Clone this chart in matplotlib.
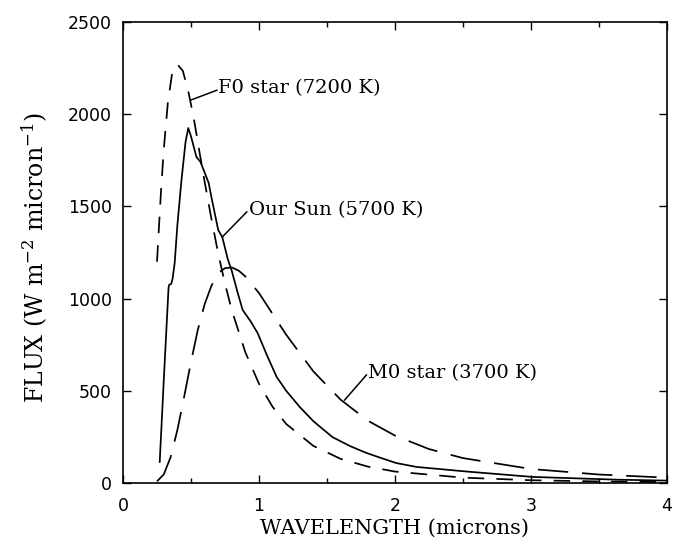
import matplotlib
matplotlib.use("Agg")
import matplotlib.pyplot as plt
from matplotlib.ticker import MultipleLocator

# ---- data ----
f0_wl = [0.25, 0.28, 0.30, 0.33, 0.36, 0.40, 0.44, 0.48, 0.52, 0.56, 0.60, 0.65, 0.70,
         0.75, 0.80, 0.90, 1.00, 1.10, 1.20, 1.40, 1.60, 1.80, 2.00, 2.50, 3.00, 3.50, 4.00]
f0_flux = [1200, 1590, 1810, 2065, 2215, 2270, 2235, 2125, 1980, 1805, 1635, 1433, 1244,
           1081, 937, 708, 538, 413, 320, 201, 131, 89, 62, 29, 15, 8.5, 5]

sun_wl = [0.27, 0.30, 0.335, 0.34, 0.355, 0.365, 0.38, 0.40, 0.43, 0.46, 0.48, 0.50,
          0.54, 0.57, 0.63, 0.65, 0.70, 0.73, 0.77, 0.80, 0.84, 0.88, 0.94, 0.99, 1.06,
          1.13, 1.20, 1.30, 1.40, 1.54, 1.67, 1.79, 1.90, 2.01, 2.16, 2.53, 3.01, 3.63, 4.00]
sun_flux = [114, 560, 1060, 1075, 1080, 1110, 1193, 1400, 1643, 1850, 1925, 1880,
            1768, 1741, 1627, 1551, 1372, 1334, 1215, 1150, 1040, 938, 875, 813, 690,
            575, 500, 412, 335, 249, 200, 163, 135, 108, 87, 62, 33, 18, 13]

m0_wl = [0.25, 0.30, 0.35, 0.40, 0.45, 0.50, 0.55, 0.60, 0.65, 0.70, 0.75, 0.80, 0.85,
         0.90, 1.00, 1.20, 1.40, 1.60, 1.80, 2.00, 2.25, 2.50, 3.00, 3.50, 4.00]
m0_flux = [9, 47, 140, 288, 469, 657, 830, 969, 1069, 1139, 1165, 1169, 1152,
           1120, 1030, 804, 605, 452, 338, 257, 184, 135, 76, 46, 29]

x_ticks = [0, 1, 2, 3, 4]
y_ticks = [0, 500, 1000, 1500, 2000, 2500]

labels = ["F0 star (7200 K)", "Our Sun (5700 K)", "M0 star (3700 K)"]
# (text position, leader start, leader end) in data units
label_pos = [(0.70, 2142), (0.93, 1480), (1.80, 597)]
leader = [((0.69, 2130), (0.50, 2077)),
          ((0.91, 1470), (0.73, 1334)),
          ((1.79, 586), (1.63, 450))]

# ---- figure ----
plt.rcParams['mathtext.fontset'] = 'dejavuserif'
fig = plt.figure(figsize=(6.73, 5.53), dpi=100)
ax = fig.add_axes([123/673, 1-483/553, 544/673, 461/553])

lw = 1.25
ax.plot(f0_wl, f0_flux, color='black', lw=lw, dashes=(9.5, 7))
ax.plot(sun_wl, sun_flux, color='black', lw=lw)
ax.plot(m0_wl, m0_flux, color='black', lw=lw, dashes=(17.5, 8))

ax.set_xlim(0, 4)
ax.set_ylim(0, 2500)
ax.set_xticks(x_ticks)
ax.set_yticks(y_ticks)
ax.xaxis.set_minor_locator(MultipleLocator(0.5))
ax.tick_params(which='both', direction='in', top=True, right=True, width=1.0)
ax.tick_params(which='major', length=6)
ax.tick_params(which='minor', length=3.5)
ax.tick_params(axis='x', which='major', pad=10)
ax.tick_params(axis='y', which='major', pad=8)
for lab in ax.get_xticklabels() + ax.get_yticklabels():
    lab.set_fontfamily('DejaVu Sans')
    lab.set_fontsize(12.5)
for s in ax.spines.values():
    s.set_linewidth(1.2)

serif = 'DejaVu Serif'
ax.set_xlabel('WAVELENGTH (microns)', fontfamily=serif, fontsize=15)
ax.set_ylabel(r'FLUX (W m$^{-2}$ micron$^{-1}$)', fontfamily=serif, fontsize=17)
ax.xaxis.set_label_coords(0.5, -0.078)
ax.yaxis.set_label_coords(-0.135, 0.49)

for txt, (tx, ty), (p0, p1) in zip(labels, label_pos, leader):
    ax.text(tx, ty, txt, fontfamily=serif, fontsize=14, ha='left', va='center')
    ax.plot([p0[0], p1[0]], [p0[1], p1[1]], color='black', lw=1.1)

fig.savefig('out.png', dpi=100)
